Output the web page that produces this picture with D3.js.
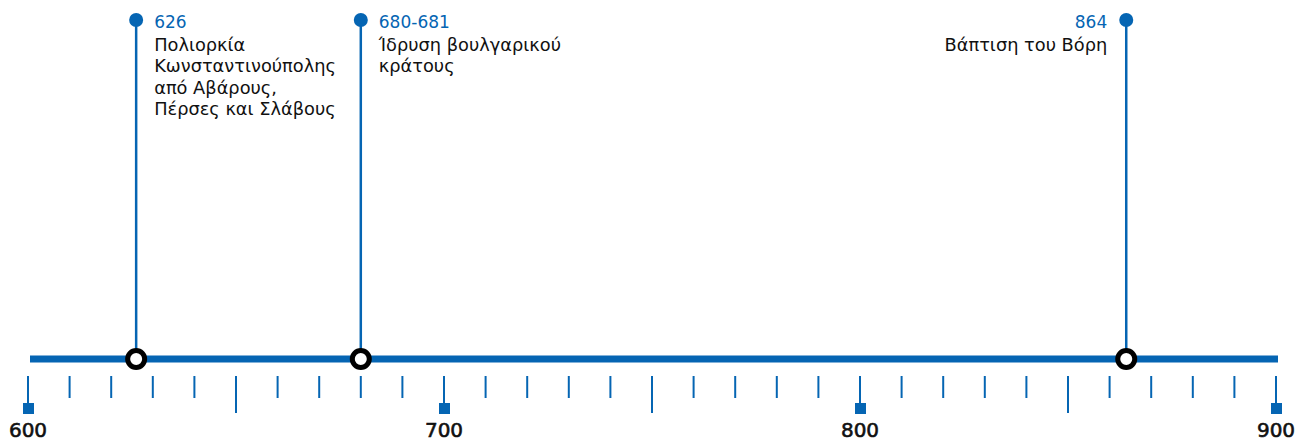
<!DOCTYPE html>
<html>
<head>
<meta charset="utf-8">
<script src="https://cdn.jsdelivr.net/npm/d3@7"></script>
<style>
  body { margin: 0; background: #fff; }
  text { font-family: "DejaVu Sans", sans-serif; }
</style>
</head>
<body>
<script>
// timeline data
var yearDomain = [600, 900];
var minorTicks = d3.range(600, 901, 10);
var midTicks = [650, 750, 850];
var majorTicks = [600, 700, 800, 900];

var eventYears = [626, 680, 864];
var eventLabels = ["626", "680-681", "864"];
var eventTexts = [
    ["Πολιορκία", "Κωνσταντινούπολης", "από Αβάρους,", "Πέρσες και Σλάβους"],
    ["Ίδρυση βουλγαρικού", "κράτους"],
    ["Βάπτιση του Βόρη"]
];
var eventSide = ["right", "right", "left"];

var blue = "#0565b3";

var svg = d3
    .select("body")
    .append("svg")
    .attr("width", 1296)
    .attr("height", 442);

var x = d3.scaleLinear().domain(yearDomain).range([28, 1276]);
var lineY = 359;

// main bar
svg.append("line")
    .attr("x1", x(600) + 2)
    .attr("x2", x(900) + 2)
    .attr("y1", lineY)
    .attr("y2", lineY)
    .attr("stroke", blue)
    .attr("stroke-width", 7);

// ticks below
svg.append("g")
    .selectAll("line")
    .data(minorTicks)
    .enter()
    .append("line")
    .attr("x1", function(d) { return x(d); })
    .attr("x2", function(d) { return x(d); })
    .attr("y1", 376)
    .attr("y2", function(d) {
        if (majorTicks.indexOf(d) >= 0) return 404;
        if (midTicks.indexOf(d) >= 0) return 413;
        return 398;
    })
    .attr("stroke", blue)
    .attr("stroke-width", 2);

// squares on the centuries
svg.append("g")
    .selectAll("rect")
    .data(majorTicks)
    .enter()
    .append("rect")
    .attr("x", function(d) { return x(d) - 5; })
    .attr("y", 403)
    .attr("width", 11)
    .attr("height", 11)
    .attr("fill", blue);

svg.append("g")
    .selectAll("text")
    .data(majorTicks)
    .enter()
    .append("text")
    .attr("x", function(d) { return x(d); })
    .attr("y", 437)
    .attr("text-anchor", "middle")
    .attr("font-size", 20)
    .attr("fill", "#111")
    .attr("stroke", "#111")
    .attr("stroke-width", 0.6)
    .text(function(d) { return d; });

// events
var ev = svg.selectAll("g.event")
    .data(eventYears)
    .enter()
    .append("g")
    .attr("class", "event");

ev.append("line")
    .attr("x1", function(d) { return x(d); })
    .attr("x2", function(d) { return x(d); })
    .attr("y1", 20)
    .attr("y2", lineY)
    .attr("stroke", blue)
    .attr("stroke-width", 2.5);

ev.append("circle")
    .attr("cx", function(d) { return x(d); })
    .attr("cy", 20)
    .attr("r", 7)
    .attr("fill", blue);

ev.append("circle")
    .attr("cx", function(d) { return x(d); })
    .attr("cy", lineY)
    .attr("r", 8.5)
    .attr("fill", "#fff")
    .attr("stroke", "#000")
    .attr("stroke-width", 5);

ev.append("text")
    .attr("x", function(d, i) { return eventSide[i] == "right" ? x(d) + 18 : x(d) - 19; })
    .attr("y", 28)
    .attr("text-anchor", function(d, i) { return eventSide[i] == "right" ? "start" : "end"; })
    .attr("font-size", 17)
    .attr("fill", blue)
    .text(function(d, i) { return eventLabels[i]; });

ev.each(function(d, i) {
    var g = d3.select(this);
    var t = g.append("text")
        .attr("text-anchor", eventSide[i] == "right" ? "start" : "end")
        .attr("font-size", 17.8)
        .attr("fill", "#111");
    t.selectAll("tspan")
        .data(eventTexts[i])
        .enter()
        .append("tspan")
        .attr("x", eventSide[i] == "right" ? x(d) + 18 : x(d) - 19)
        .attr("y", function(s, j) { return 51 + j * 21.3; })
        .text(function(s) { return s; });
});
</script>
</body>
</html>
